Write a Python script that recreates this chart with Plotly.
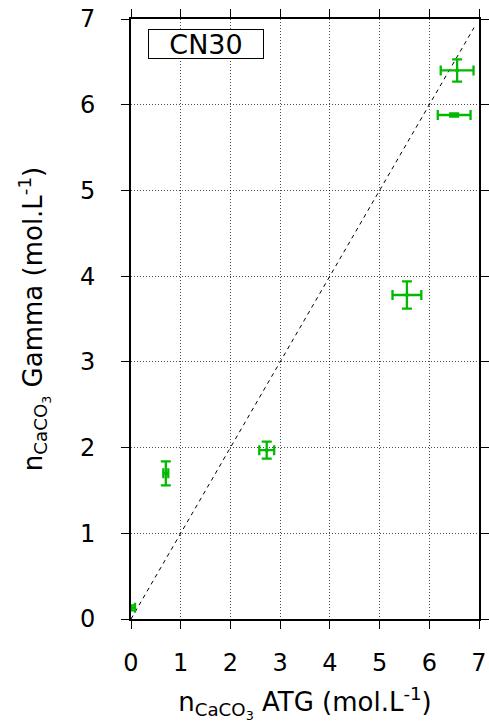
import plotly.graph_objects as go

x_atg = [0.0, 0.70, 2.73, 5.55, 6.56, 6.50]
y_gamma = [0.13, 1.70, 1.97, 3.78, 6.40, 5.88]
x_err = [0.08, 0.05, 0.15, 0.29, 0.33, 0.33]
y_err = [0.03, 0.14, 0.10, 0.16, 0.13, 0.02]
ref_line = [0.0, 6.9]
ticks = [0, 1, 2, 3, 4, 5, 6, 7]
label = "CN30"

green = "rgb(0,185,0)"
font = "DejaVu Sans"
tick_fs = 24
title_fs = 26

fig = go.Figure()
fig.add_trace(go.Scatter(x=ref_line, y=ref_line, mode="lines",
                         line=dict(color="black", width=1, dash="4px,4px"),
                         showlegend=False, hoverinfo="skip"))
fig.add_trace(go.Scatter(
    x=x_atg, y=y_gamma, mode="markers",
    marker=dict(color=green, size=4),
    error_x=dict(type="data", array=x_err, color=green, thickness=2.3, width=5),
    error_y=dict(type="data", array=y_err, color=green, thickness=2.3, width=5),
    showlegend=False))

fig.add_annotation(x=0.049, y=0.984, xref="paper", yref="paper",
                   xanchor="left", yanchor="top", text=label, showarrow=False,
                   font=dict(size=27, color="black", family=font),
                   bordercolor="black", borderwidth=1, borderpad=1,
                   bgcolor="white", width=112, height=26)

axis_common = dict(
    range=[0, 7], tickvals=ticks, ticks="outside", ticklen=8, tickwidth=1,
    tickcolor="black", showline=True, linecolor="black", linewidth=2,
    mirror="ticks", showgrid=True, gridcolor="rgba(0,0,0,0.7)",
    griddash="1px,2px", gridwidth=1, zeroline=False, automargin=False,
    ticklabeloverflow="allow",
    tickfont=dict(size=tick_fs, color="black", family=font),
)

fig.update_layout(
    width=489, height=724,
    margin=dict(l=131, r=10, t=19, b=105),
    paper_bgcolor="white", plot_bgcolor="white",
    font=dict(family=font, color="black"),
    xaxis=dict(**axis_common, ticklabelstandoff=13,
               title=dict(text="n<sub>CaCO<sub>3</sub></sub> ATG (mol.L<sup>-1</sup>)",
                          font=dict(size=title_fs, color="black", family=font), standoff=17)),
    yaxis=dict(**axis_common, ticklabelstandoff=21,
               title=dict(text="n<sub>CaCO<sub>3</sub></sub> Gamma (mol.L<sup>-1</sup>)",
                          font=dict(size=title_fs, color="black", family=font), standoff=30)),
)

fig.write_html("out.html", config={"displayModeBar": False},
               post_script="document.body.style.margin='0';document.body.style.overflow='hidden';")
